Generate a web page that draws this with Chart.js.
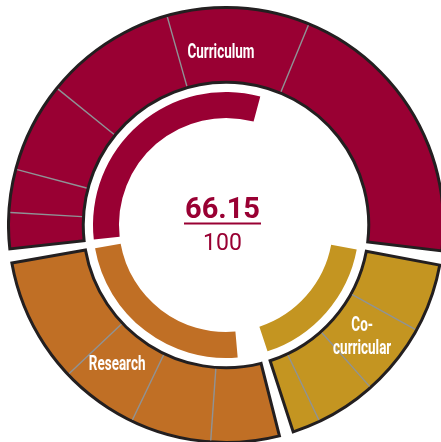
<!DOCTYPE html>
<html>
<head>
<meta charset="utf-8">
<script src="https://cdn.jsdelivr.net/npm/chart.js@4.4.1/dist/chart.umd.min.js"></script>
<style>
    html, body { margin: 0; padding: 0; background: #fff; overflow: hidden; width: 441px; height: 442px; }
    #wrap { position: absolute; left: 7px; top: 6px; width: 438px; height: 438px; }
</style>
</head>
<body>
<div id="wrap"><canvas id="myChart" width="438" height="438"></canvas></div>
<script>
// sections, clockwise from the left edge of Curriculum
const sectionLabels = ['Curriculum', 'Co-curricular', 'Research'];
const sectionColors = ['#990033', '#c49521', '#c06f25'];

// sub-indicators of each section (points out of 100)
const curriculumParts = [3.2, 3.2, 6.7, 9.8, 10.6, 21.2];
const coCurricularParts = [5.6, 5.4, 4.5, 2.6];
const researchParts = [5.6, 6.0, 5.8, 9.8];

// achieved part of each section (inner ring) and where it starts
const sectionScores = [30.9, 17.0, 23.6];
const scoreAnchor = ['start', 'start', 'end'];

const totalScore = '66.15';
const maxScore = '100';

const gapSize = 1.05;
const borderColor = '#231f20';
const partLineColor = '#8f9396';

const sectionParts = [curriculumParts, coCurricularParts, researchParts];
const sectionTotals = sectionParts.map(function (p) {
    return p.reduce(function (a, b) { return a + b; }, 0);
});

// outer ring: section, gap, section, gap ...
var outerData = [], outerColors = [], outerBorders = [];
// inner ring: score and empty part of each section
var innerData = [], innerColors = [];
sectionTotals.forEach(function (total, i) {
    var visible = total - gapSize;
    outerData.push(visible, gapSize);
    outerColors.push(sectionColors[i], 'rgba(0,0,0,0)');
    outerBorders.push(3, 0);

    var rest = Math.max(visible - sectionScores[i], 0);
    if (scoreAnchor[i] === 'start') {
        innerData.push(sectionScores[i], rest);
        innerColors.push(sectionColors[i], 'rgba(0,0,0,0)');
    } else {
        innerData.push(rest, sectionScores[i]);
        innerColors.push('rgba(0,0,0,0)', sectionColors[i]);
    }
    innerData.push(gapSize);
    innerColors.push('rgba(0,0,0,0)');
});

// thin grey lines between the sub-indicators
const partLines = {
    id: 'partLines',
    afterDatasetsDraw(chart) {
        const c = chart.ctx;
        const arcs = chart.getDatasetMeta(0).data;
        c.save();
        c.strokeStyle = partLineColor;
        c.lineWidth = 1.4;
        sectionParts.forEach(function (parts, i) {
            const arc = arcs[i * 2];
            const p = arc.getProps(['x', 'y', 'startAngle', 'endAngle', 'innerRadius', 'outerRadius']);
            const span = sectionTotals[i] - gapSize;
            var acc = -gapSize / 2;
            for (var k = 0; k < parts.length - 1; k++) {
                acc += parts[k];
                const a = p.startAngle + (p.endAngle - p.startAngle) * acc / span;
                const r0 = p.innerRadius + 1.5, r1 = p.outerRadius - 1.5;
                c.beginPath();
                c.moveTo(p.x + Math.cos(a) * r0, p.y + Math.sin(a) * r0);
                c.lineTo(p.x + Math.cos(a) * r1, p.y + Math.sin(a) * r1);
                c.stroke();
            }
        });
        c.restore();
    }
};

// section names and the total in the middle
const labelAt = [0.49, 0.46, 0.56];
const textPlugin = {
    id: 'textPlugin',
    afterDraw(chart) {
        const c = chart.ctx;
        const arcs = chart.getDatasetMeta(0).data;
        c.save();
        c.fillStyle = '#fff';
        c.font = 'bold 21px Roboto, "Open Sans", sans-serif';
        c.textAlign = 'center';
        c.textBaseline = 'alphabetic';
        const sx = 67 / c.measureText('Curriculum').width;
        sectionLabels.forEach(function (label, i) {
            const p = arcs[i * 2].getProps(['x', 'y', 'startAngle', 'endAngle', 'innerRadius', 'outerRadius']);
            const a = p.startAngle + (p.endAngle - p.startAngle) * labelAt[i];
            const r = p.innerRadius + (p.outerRadius - p.innerRadius) * 0.43;
            const lx = p.x + Math.cos(a) * r, ly = p.y + Math.sin(a) * r;
            var lines = label.length > 11 ? ['Co-', 'curricular'] : [label];
            lines.forEach(function (t, j) {
                c.save();
                c.translate(lx, ly + 8 + (j - (lines.length - 1) / 2) * 23);
                c.scale(sx, 1);
                c.fillText(t, 0, 0);
                c.restore();
            });
        });

        const cx = arcs[0].x - 3.5, cy = arcs[0].y;
        c.fillStyle = '#990033';
        c.font = 'bold 29px Roboto, sans-serif';
        c.fillText(totalScore, cx, cy - 7);
        c.fillRect(cx - 38.5, cy - 2.5, 77, 2);
        c.font = '23px Roboto, sans-serif';
        c.fillText(maxScore, cx, cy + 25);
        c.restore();
    }
};

const ctx = document.getElementById('myChart');
new Chart(ctx, {
    type: 'doughnut',
    data: {
        datasets: [
            {
                data: outerData,
                backgroundColor: outerColors,
                borderColor: borderColor,
                borderWidth: outerBorders,
                hoverBorderWidth: outerBorders,
                borderJoinStyle: 'miter',
                weight: 74.75
            },
            {
                data: [100],
                backgroundColor: 'rgba(0,0,0,0)',
                borderWidth: 0,
                weight: 9.75
            },
            {
                data: innerData,
                backgroundColor: innerColors,
                borderWidth: 0,
                weight: 26
            }
        ]
    },
    options: {
        responsive: false,
        animation: false,
        events: [],
        rotation: -96.3,
        cutout: 107,
        plugins: {
            legend: { display: false },
            tooltip: { enabled: false }
        }
    },
    plugins: [partLines, textPlugin]
});
</script>
</body>
</html>
